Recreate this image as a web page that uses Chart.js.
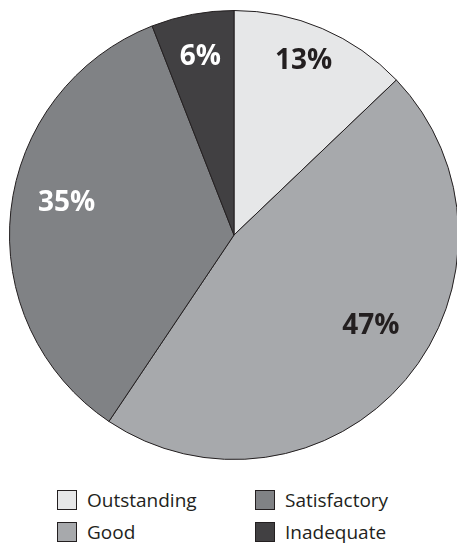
<!DOCTYPE html>
<html>
<head>
<meta charset="utf-8">
<script src="https://cdn.jsdelivr.net/npm/chart.js@4/dist/chart.umd.min.js"></script>
<style>
  html, body {
    margin: 0;
    padding: 0;
    background: #fff;
  }
  body {
    position: relative;
    width: 457px;
    height: 549px;
    overflow: hidden;
    font-family: "Open Sans", sans-serif;
    color: #231f20;
  }
  #pie {
    position: absolute;
    left: 9px;
    top: 10px;
  }
  #legend {
    position: absolute;
    left: 57px;
    top: 484px;
    display: grid;
    grid-auto-flow: column;
    grid-template-rows: repeat(2, 32px);
    grid-template-columns: 198px auto;
  }
  .item {
    display: flex;
    align-items: center;
    font-size: 19px;
  }
  .box {
    width: 18px;
    height: 18px;
    border: 1px solid #231f20;
    margin-right: 10px;
  }
</style>
</head>
<body>
<canvas id="pie" width="450" height="450"></canvas>
<div id="legend"></div>

<script>
// data
const categories = ["Outstanding", "Good", "Satisfactory", "Inadequate"];
const shares     = [13, 47, 35, 6];
const shareText  = ["13%", "47%", "35%", "6%"];

// style
const fills      = ["#e6e7e8", "#a7a9ac", "#808285", "#414042"];
const textColors = ["#231f20", "#231f20", "#ffffff", "#ffffff"];
// label placement: fraction of radius, angle nudge in degrees
const labelRadius = [0.84, 0.73, 0.76, 0.81];
const labelNudge  = [-1.5, -6.7, 4.8, 0];

// draws the % text inside every slice
const sliceLabels = {
  id: "sliceLabels",
  afterDatasetsDraw(chart) {
    const { ctx } = chart;
    const arcs = chart.getDatasetMeta(0).data;
    ctx.save();
    ctx.font = "bold 28px 'Open Sans', sans-serif";
    ctx.textAlign = "center";
    ctx.textBaseline = "middle";
    arcs.forEach((arc, i) => {
      const p = arc.getProps(["x", "y", "startAngle", "endAngle", "outerRadius"], true);
      const mid = (p.startAngle + p.endAngle) / 2 + labelNudge[i] * Math.PI / 180;
      const r = p.outerRadius * labelRadius[i];
      ctx.fillStyle = textColors[i];
      ctx.fillText(shareText[i], p.x + Math.cos(mid) * r, p.y + Math.sin(mid) * r + 1);
    });
    ctx.restore();
  }
};

new Chart(document.getElementById("pie"), {
  type: "pie",
  data: {
    labels: categories,
    datasets: [{
      data: shares,
      backgroundColor: fills,
      borderColor: "#231f20",
      borderWidth: 1
    }]
  },
  options: {
    responsive: false,
    animation: false,
    layout: { padding: 0 },
    plugins: {
      legend: { display: false },
      tooltip: { enabled: false }
    }
  },
  plugins: [sliceLabels]
});

// 2x2 legend, filled column by column
const legendEl = document.getElementById("legend");
categories.forEach((name, i) => {
  const item = document.createElement("div");
  item.className = "item";
  const box = document.createElement("span");
  box.className = "box";
  box.style.background = fills[i];
  const label = document.createElement("span");
  label.textContent = name;
  item.appendChild(box);
  item.appendChild(label);
  legendEl.appendChild(item);
});
</script>
</body>
</html>
